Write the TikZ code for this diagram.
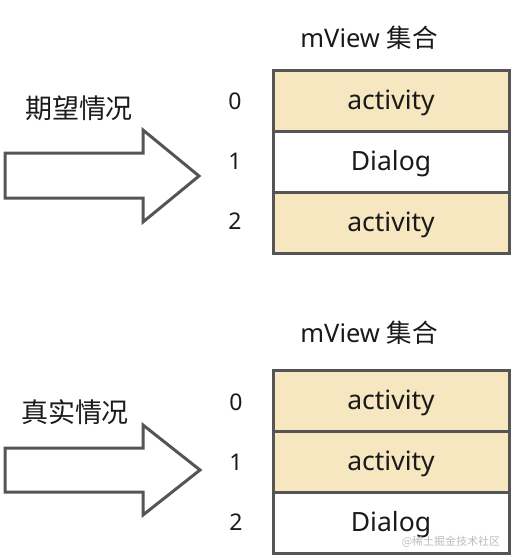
\documentclass[tikz,border=0pt]{standalone}
\usepackage{fontspec}
\setmainfont{Noto Sans}
\newfontfamily\cjk{Noto Sans CJK SC}
\usetikzlibrary{positioning}
\definecolor{c1}{HTML}{1A1A1A}
\definecolor{c2}{HTML}{555555}
\definecolor{c3}{HTML}{F6E7C1}
\definecolor{c4}{HTML}{BDBDBD}

\begin{document}
\begin{tikzpicture}[
    x=1pt, y=-1pt,
    every node/.style={text=c1, inner sep=0pt},
    cell/.style={rectangle, draw=c2, line width=3pt,
                 minimum width=236pt, minimum height=61pt,
                 text height=18pt, text depth=0pt,
                 font=\fontsize{26.5}{30}\selectfont},
    idx/.style={font=\fontsize{23}{27}\selectfont},
    title/.style={font=\fontsize{25.5}{30}\selectfont},
    case/.style={font=\cjk\fontsize{27}{31}\selectfont},
    bigarrow/.style={draw=c2, line width=3pt, fill=white, line join=miter},
    wmark/.style={font=\cjk\fontsize{11}{13}\selectfont, text=c4},
]
\useasboundingbox (0,0) rectangle (514,560);

% ---------------------------------------------------------------- expected
\node[title] (t1) at (369, 38) {mView {\cjk 集合}};
\node[case] (c1) at (79, 108) {期望情况};
\draw[bigarrow] (5,153) -- (143,153) -- (143,130) -- (199,176)
    -- (143,222) -- (143,198) -- (5,198) -- cycle;
\foreach \i/\f/\t in {0/c3/activity, 1/white/Dialog, 2/c3/activity}{
    \node[cell, fill=\f] (a\i) at (391, {100.5+61*\i}) {\t};
    \node[idx] (ai\i) at (235, {101+60*\i}) {\i};
}

% ---------------------------------------------------------------- actual
\node[title] (t2) at (369, 333) {mView {\cjk 集合}};
\node[case] (c2) at (75, 412) {真实情况};
\draw[bigarrow] (5,448) -- (143,448) -- (143,425) -- (200,470)
    -- (143,515) -- (143,492) -- (5,492) -- cycle;
\foreach \i/\f/\t in {0/c3/activity, 1/c3/activity, 2/white/Dialog}{
    \node[cell, fill=\f] (b\i) at (391, {400.5+61*\i}) {\t};
    \node[idx] (bi\i) at (236, {402+60*\i}) {\i};
}

\node[wmark] (wm) at (451, 542) {@稀土掘金技术社区};
\end{tikzpicture}
\end{document}
